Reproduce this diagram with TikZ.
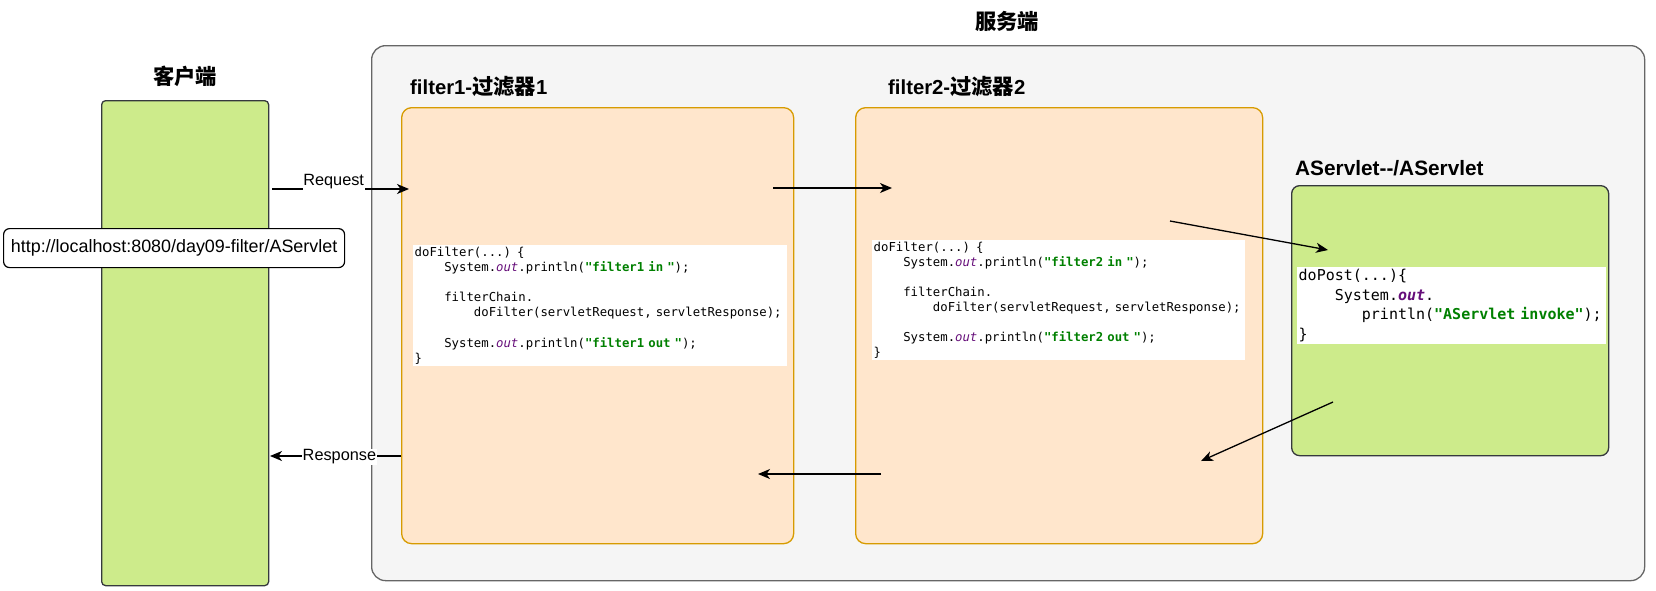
\documentclass[tikz,border=0pt]{standalone}
\usepackage{fontspec}
\setmainfont{Liberation Sans}
\newfontfamily\cjk{Noto Sans CJK SC}
\newfontfamily\codefont{DejaVu Sans Mono}
\usetikzlibrary{arrows.meta}
\definecolor{gfill}{HTML}{CDEB8B}
\definecolor{gline}{HTML}{36393D}
\definecolor{pfill}{HTML}{FFE6CC}
\definecolor{pline}{HTML}{D79B00}
\definecolor{sfill}{HTML}{F5F5F5}
\definecolor{sline}{HTML}{666666}
\definecolor{outc}{HTML}{660E7A}
\definecolor{strc}{HTML}{008000}
\newcommand\ind[1]{\hspace*{#1\fontcharwd\font`0}}
\newcommand\jout{\textcolor{outc}{\textit{out}}}
\newcommand\jboldout{\textcolor{outc}{\textbf{\textit{out}}}}
\newcommand\jstr[1]{\textcolor{strc}{\textbf{#1}}}
\newcommand\cjkb[1]{{\cjk\bfseries\fontsize{21.3}{24}\selectfont #1}}
\tikzset{
  box/.style={anchor=north west, inner sep=0pt, line width=1.3pt},
  greenbox/.style={box, fill=gfill, draw=gline, rounded corners=4pt},
  filterbox/.style={box, fill=pfill, draw=pline, rounded corners=10pt},
  serverbox/.style={box, fill=sfill, draw=sline, rounded corners=14pt},
  codebox/.style={anchor=north west, fill=white, inner sep=1.5pt, align=left},
  title/.style={font=\fontsize{20.3}{24}\selectfont\bfseries, inner sep=0pt},
  arr/.style={line width=1.3pt, -{Stealth[length=12pt,width=10pt,inset=3.5pt]}},
  lbl/.style={font=\fontsize{16.3}{19}\selectfont, fill=white, inner sep=0.5pt},
}
\begin{document}
\begin{tikzpicture}[x=1pt,y=-1pt]
\useasboundingbox (0,0) rectangle (1656,590);
% containers
\node[serverbox, minimum width=1273pt, minimum height=535pt] (server) at (371,45) {};
\node[greenbox, minimum width=167pt, minimum height=485pt] (client) at (101,100) {};
\node[filterbox, minimum width=392pt, minimum height=436pt] (f1) at (401,107) {};
\node[filterbox, minimum width=407pt, minimum height=436pt] (f2) at (855,107) {};
\node[greenbox, minimum width=317pt, minimum height=270pt, rounded corners=8pt] (sv) at (1291,185) {};
% titles
\node[title] (tclient) at (185,76) {\cjkb{客户端}};
\node[title] (tserver) at (1007,21) {\cjkb{服务端}};
\node[title, anchor=west] (tf1) at (410,87) {filter1-\cjkb{过滤器}1};
\node[title, anchor=west] (tf2) at (888,87) {filter2-\cjkb{过滤器}2};
\node[title, anchor=west, font=\fontsize{20.8}{24}\selectfont\bfseries] (tsv) at (1295,168) {AServlet-{}-/AServlet};
% url
\node[box, draw=black, fill=white, rounded corners=6pt, minimum width=341pt, minimum height=39pt,
      font=\fontsize{17.9}{20}\selectfont, line width=1.2pt] (url) at (3,228) {http://localhost:8080/day09-filter/AServlet};
% code blocks
\node[codebox, text width=371pt, minimum height=120pt, font=\codefont\fontsize{12.3}{15.2}\selectfont] (code1) at (413,245) {%
doFilter(...) \{\\
\ind{4}System.\jout.println(\jstr{"filter1 in "});\\
\mbox{}\\
\ind{4}filterChain.\\
\ind{8}doFilter(servletRequest, servletResponse);\\
\mbox{}\\
\ind{4}System.\jout.println(\jstr{"filter1 out "});\\
\}};
\node[codebox, text width=370pt, minimum height=118pt, font=\codefont\fontsize{12.3}{15.0}\selectfont] (code2) at (872,240) {%
doFilter(...) \{\\
\ind{4}System.\jout.println(\jstr{"filter2 in "});\\
\mbox{}\\
\ind{4}filterChain.\\
\ind{8}doFilter(servletRequest, servletResponse);\\
\mbox{}\\
\ind{4}System.\jout.println(\jstr{"filter2 out "});\\
\}};
\node[codebox, text width=306pt, minimum height=77pt, font=\codefont\fontsize{15}{19.5}\selectfont] (code3) at (1297,267) {%
doPost(...)\{\\
\ind{4}System.\jboldout.\\
\ind{7}println(\jstr{"AServlet invoke"});\\
\}};
% connector ends
\coordinate (reqA) at (272,189);
\coordinate (reqB) at (409,189);
\coordinate (resA) at (401,456);
\coordinate (resB) at (270,456);
\coordinate (c12a) at (773,188);
\coordinate (c12b) at (892,188);
\coordinate (c23a) at (1170,221);
\coordinate (c23b) at (1328,250);
\coordinate (c32a) at (1333,402);
\coordinate (c32b) at (1201,461);
\coordinate (c21a) at (881,474);
\coordinate (c21b) at (758,474);
% connectors
\draw[arr] (reqA) -- node[lbl, yshift=7pt, pos=0.45] (lreq) {Request} (reqB);
\draw[arr] (resA) -- node[lbl, yshift=-1pt, pos=0.47] (lres) {Response} (resB);
\draw[arr] (c12a) -- (c12b);
\draw[arr] (c23a) -- (c23b);
\draw[arr] (c32a) -- (c32b);
\draw[arr] (c21a) -- (c21b);
\end{tikzpicture}
\end{document}
